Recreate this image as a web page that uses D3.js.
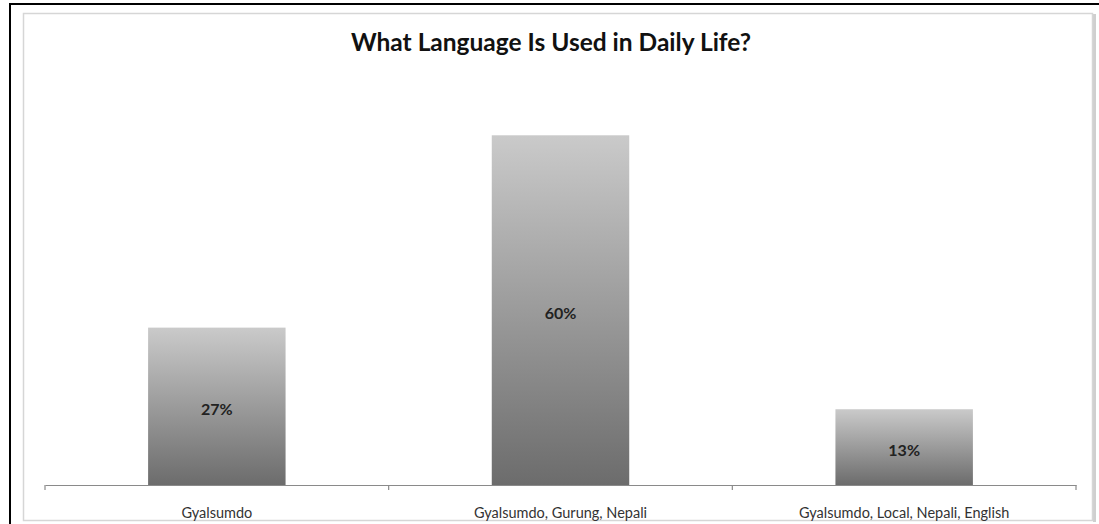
<!DOCTYPE html>
<html><head><meta charset="utf-8">
<script src="https://cdn.jsdelivr.net/npm/d3@7"></script>
<style>body{margin:0;background:#fff}svg{display:block}</style>
</head><body>
<svg id="chart" width="1099" height="524"></svg>
<script>
const categories = ["Gyalsumdo", "Gyalsumdo, Gurung, Nepali", "Gyalsumdo, Local, Nepali, English"];
const values = [0.27, 0.60, 0.13];
const valueLabels = ["27%", "60%", "13%"];
const title = "What Language Is Used in Daily Life?";

const svg = d3.select("#chart");
const font = "Lato, 'Open Sans', sans-serif";

// outer page frame (black lines top & left)
svg.append("line").attr("x1", 10).attr("x2", 1099).attr("y1", 4).attr("y2", 4).attr("stroke", "#000").attr("stroke-width", 2);
svg.append("line").attr("x1", 10).attr("x2", 10).attr("y1", 3).attr("y2", 524).attr("stroke", "#000").attr("stroke-width", 2);

// chart box with soft border and right shadow
svg.append("rect").attr("x", 1093).attr("y", 14).attr("width", 3).attr("height", 508).attr("fill", "#cfcfcf");
svg.append("rect").attr("x", 23.5).attr("y", 13.5).attr("width", 1069).attr("height", 507)
  .attr("fill", "#fff").attr("stroke", "#d6d6d6").attr("stroke-width", 1.5);

const defs = svg.append("defs");
const grad = defs.append("linearGradient").attr("id", "barGrad")
  .attr("x1", 0).attr("y1", 0).attr("x2", 0).attr("y2", 1);
grad.append("stop").attr("offset", "0%").attr("stop-color", "#cacaca");
grad.append("stop").attr("offset", "100%").attr("stop-color", "#6c6c6c");

const x = d3.scaleBand().domain(categories).range([45, 1076]).paddingInner(0.6).paddingOuter(0.3);
const y = d3.scaleLinear().domain([0, 0.7]).range([485, 77]);

// title
svg.append("text").attr("x", 551).attr("y", 51).attr("text-anchor", "middle")
  .attr("font-family", font).attr("font-weight", "bold").attr("font-size", 24.5).attr("fill", "#111")
  .text(title);

// bars
svg.selectAll("rect.bar").data(values).enter().append("rect").attr("class", "bar")
  .attr("x", (d, i) => x(categories[i]))
  .attr("y", d => y(d))
  .attr("width", x.bandwidth())
  .attr("height", d => y(0) - y(d))
  .attr("fill", "url(#barGrad)");

// value labels
svg.selectAll("text.val").data(values).enter().append("text").attr("class", "val")
  .attr("x", (d, i) => x(categories[i]) + x.bandwidth() / 2)
  .attr("y", d => (y(d) + y(0)) / 2 + 8.5)
  .attr("text-anchor", "middle")
  .attr("font-family", font).attr("font-weight", "bold").attr("font-size", 16).attr("fill", "#222")
  .text((d, i) => valueLabels[i]);

// x axis
const axis = d3.axisBottom(x).tickSize(0).tickPadding(0);
const g = svg.append("g").attr("transform", `translate(0,${y(0)})`).call(axis);
g.select(".domain").attr("stroke", "#8a8a8a").attr("stroke-width", 1.2);
g.selectAll("text").attr("font-family", font).attr("font-size", 14.5).attr("fill", "#333")
  .attr("dy", null).attr("y", 32.5);
// boundary tick marks between categories
const step = x.step();
const bounds = [45, 45 + step, 45 + 2 * step, 1076];
g.selectAll("line.bt").data(bounds).enter().append("line").attr("class", "bt")
  .attr("x1", d => d).attr("x2", d => d).attr("y1", 0).attr("y2", 5)
  .attr("stroke", "#8a8a8a").attr("stroke-width", 1.2);
</script>
</body></html>
